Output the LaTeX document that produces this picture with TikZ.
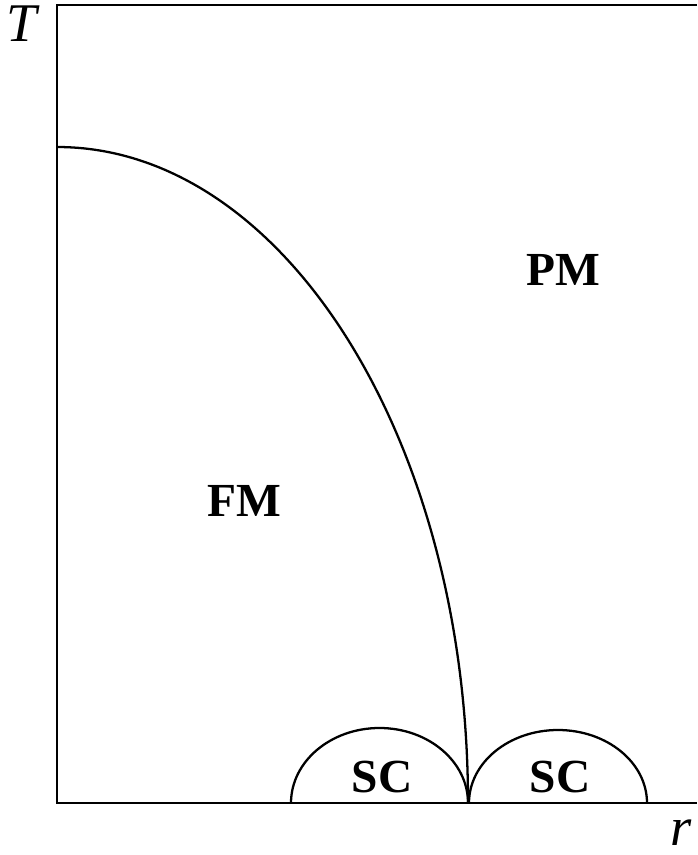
\documentclass[tikz,border=0pt]{standalone}
\usepackage{fontspec}
\setmainfont{Liberation Serif}
\usepackage{tikz}
\usetikzlibrary{positioning}

\begin{document}
\begin{tikzpicture}[
  x=0.02cm, y=-0.02cm,
  frame/.style={line width=1.6pt},
  boundary/.style={line width=1.3pt},
  phase/.style={font=\fontsize{27}{30}\selectfont\bfseries},
  axislabel/.style={font=\fontsize{31}{34}\selectfont\itshape}
]
\useasboundingbox (0,0) rectangle (697,855);

% Axes (open on the right)
\draw[frame] (697,5) -- (57,5) -- (57,803) -- (697,803);
\node[axislabel] (T) at (22,24) {T};
\node[axislabel] (r) at (681,833) {r};

% FM / PM boundary
\coordinate (tc) at (57,147);
\coordinate (qcp) at (468,803);
\draw[boundary] (tc) arc[start angle=90, end angle=0, x radius=411, y radius=-656];

% Superconducting domes
\draw[boundary] (291,803) arc[start angle=180, end angle=0, x radius=88.5, y radius=-75];
\draw[boundary] (469,803) arc[start angle=180, end angle=0, x radius=89, y radius=-73];

% Phase labels
\node[phase] (pm) at (563,270) {PM};
\node[phase] (fm) at (244,501) {FM};
\node[phase] (scl) at (382,777) {SC};
\node[phase] (scr) at (560,777) {SC};

\end{tikzpicture}
\end{document}
